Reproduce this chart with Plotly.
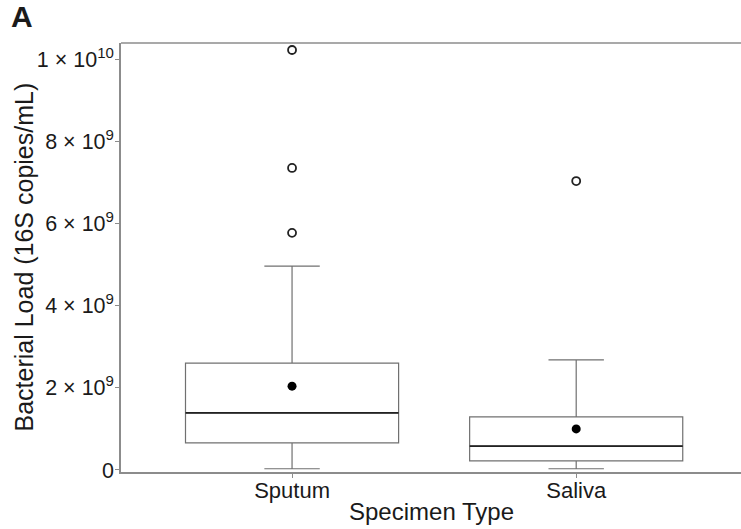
import plotly.graph_objects as go

# Summary statistics per specimen type (16S copies/mL)
categories = ["Sputum", "Saliva"]
lower_whisker = [0.03e9, 0.03e9]
q1 = [0.66e9, 0.22e9]
median = [1.39e9, 0.58e9]
q3 = [2.60e9, 1.29e9]
upper_whisker = [4.96e9, 2.68e9]
means = [2.04e9, 1.00e9]
outliers = [[10.22e9, 7.35e9, 5.77e9], [7.03e9]]

tick_vals = [0, 2e9, 4e9, 6e9, 8e9, 1e10]
tick_text = ["0", "2 × 10<sup>9</sup>", "4 × 10<sup>9</sup>", "6 × 10<sup>9</sup>",
             "8 × 10<sup>9</sup>", "1 × 10<sup>10</sup>"]

FONT = "Liberation Sans, Arial, sans-serif"
TEXT = "#1a1a1a"
BOX_W = 0.75
BOX_LINE = "#707070"
FRAME = "#8c8c8c"

fig = go.Figure()

for i, name in enumerate(categories):
    fig.add_trace(go.Box(
        x=[i], q1=[q1[i]], median=[median[i]], q3=[q3[i]],
        lowerfence=[lower_whisker[i]], upperfence=[upper_whisker[i]],
        width=BOX_W, whiskerwidth=0.26, boxpoints=False,
        fillcolor="white", line=dict(color=BOX_LINE, width=1.2),
        hoverinfo="skip", showlegend=False,
    ))
    # darker median bar across the box
    fig.add_trace(go.Scatter(
        x=[i - BOX_W / 2, i + BOX_W / 2], y=[median[i], median[i]],
        mode="lines", line=dict(color="#222222", width=1.8),
        hoverinfo="skip", showlegend=False,
    ))
    # outliers as open circles
    fig.add_trace(go.Scatter(
        x=[i] * len(outliers[i]), y=outliers[i], mode="markers",
        marker=dict(symbol="circle-open", size=8, color="#222222",
                    line=dict(width=1.8)),
        hoverinfo="skip", showlegend=False,
    ))

# group means as filled dots
fig.add_trace(go.Scatter(
    x=list(range(len(categories))), y=means, mode="markers",
    marker=dict(symbol="circle", size=9, color="black"),
    hoverinfo="skip", showlegend=False,
))

fig.update_layout(
    width=741, height=529,
    margin=dict(l=121, r=0, t=43, b=57),
    paper_bgcolor="white", plot_bgcolor="white",
    font=dict(family=FONT, color=TEXT),
    xaxis=dict(
        range=[-0.602, 1.58], tickvals=list(range(len(categories))),
        ticktext=categories, showgrid=False, zeroline=False,
        showline=True, linecolor=FRAME, linewidth=1.5,
        ticks="outside", ticklen=4, tickcolor=FRAME,
        ticklabelstandoff=-6,
        tickfont=dict(size=22, color=TEXT),
    ),
    yaxis=dict(
        range=[-0.049e9, 10.39e9], tickvals=tick_vals, ticktext=tick_text,
        showgrid=False, zeroline=False,
        showline=True, linecolor=FRAME, linewidth=1.5,
        ticks="outside", ticklen=4, tickcolor=FRAME,
        ticklabelstandoff=-3,
        tickfont=dict(size=21.5, color=TEXT),
    ),
    shapes=[dict(type="line", xref="paper", yref="paper", x0=0, x1=1, y0=1, y1=1,
                 line=dict(color=FRAME, width=1.5))],
    annotations=[
        dict(text="Bacterial Load (16S copies/mL)", textangle=-90,
             xref="paper", yref="paper", x=-0.158, y=0.5,
             xanchor="center", yanchor="middle", showarrow=False,
             font=dict(size=25, color=TEXT)),
        dict(text="Specimen Type", xref="paper", yref="paper", x=0.5, y=0.0,
             xanchor="center", yanchor="top", yshift=-24, showarrow=False,
             font=dict(size=24, color=TEXT)),
        dict(text="<b>A</b>", xref="paper", yref="paper", x=-0.181, y=1.062,
             xanchor="left", yanchor="middle", showarrow=False,
             font=dict(size=30, color=TEXT)),
    ],
)

fig.write_html("out.html")
